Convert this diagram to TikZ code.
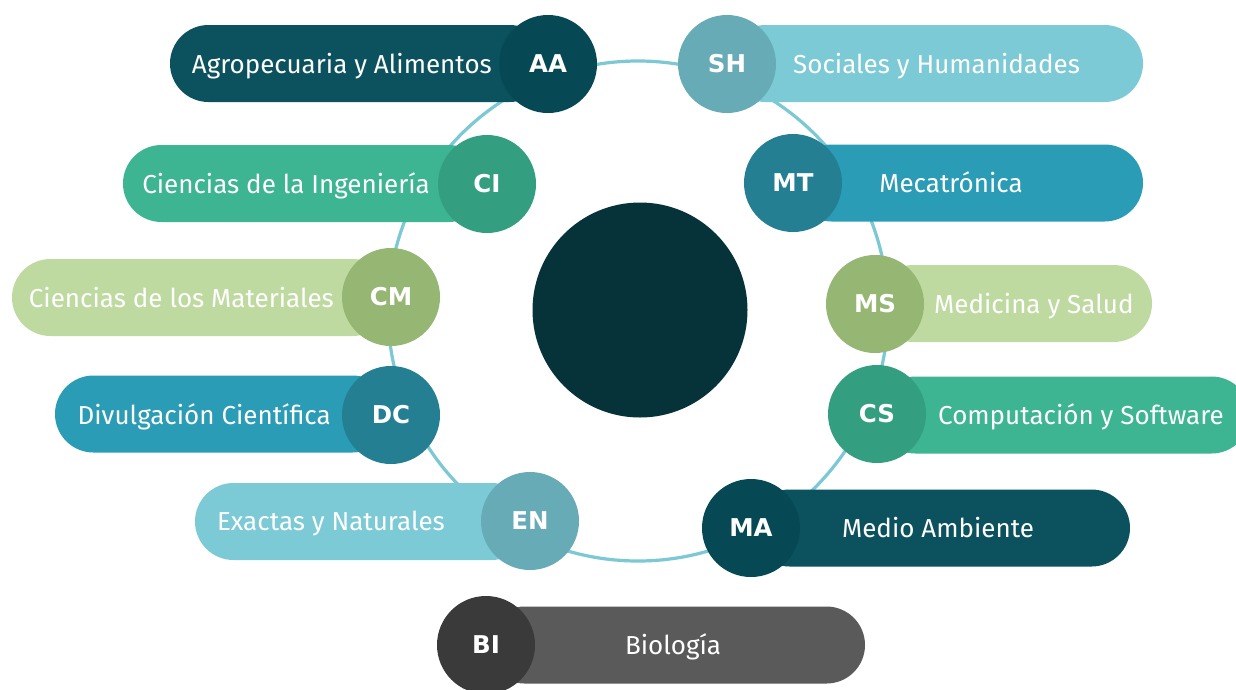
\documentclass[tikz,border=0pt]{standalone}
\usepackage{fontspec}
\setmainfont{Fira Sans}
\newfontfamily\badgefont{DejaVu Sans}
\definecolor{ringc}{HTML}{7CC8D4}
\definecolor{corec}{HTML}{063239}
\definecolor{dkp}{HTML}{0B525E}
\definecolor{dkc}{HTML}{064954}
\definecolor{ltp}{HTML}{7CCAD6}
\definecolor{ltc}{HTML}{66ABB5}
\definecolor{grp}{HTML}{3DB592}
\definecolor{grc}{HTML}{349F80}
\definecolor{blp}{HTML}{2B9CB6}
\definecolor{blc}{HTML}{257F93}
\definecolor{lgp}{HTML}{BFDAA0}
\definecolor{lgc}{HTML}{96B673}
\definecolor{gyp}{HTML}{5A5A5A}
\definecolor{gyc}{HTML}{3A3A3A}
\begin{document}
\begin{tikzpicture}[x=1pt,y=-1pt,
  pill/.style={rectangle, rounded corners=38.5pt, minimum height=77pt, inner sep=0pt, draw=none},
  badge/.style={circle, minimum size=98pt, inner sep=0pt, text=white, font=\badgefont\fontsize{24.5}{29}\selectfont\bfseries},
  lbl/.style={text=white, font=\fontsize{26}{31}\selectfont, inner sep=0pt},
]
\useasboundingbox (0,0) rectangle (1236,689);
\clip (0,0) rectangle (1236,689);
\fill[white] (0,0) rectangle (1236,689);
\node[circle, draw=ringc, line width=3.2pt, minimum size=500pt, inner sep=0pt] (ring) at (638,311) {};
\node[circle, fill=corec, minimum size=215pt, inner sep=0pt] (core) at (640,310) {};
% AA
\node[pill, fill=dkp, minimum width=378pt] (AAp) at (359,63.5) {};
\node[badge, fill=dkc] (AA) at (548,64) {AA};
\node[lbl, anchor=base east] (AAt) at (492,73) {Agropecuaria y Alimentos};
% SH
\node[pill, fill=ltp, minimum width=416pt] (SHp) at (935,63.5) {};
\node[badge, fill=ltc] (SH) at (727,64) {SH};
\node[lbl, anchor=base west] (SHt) at (793,73) {Sociales y Humanidades};
% CI
\node[pill, fill=grp, minimum width=364pt] (CIp) at (305,183.5) {};
\node[badge, fill=grc] (CI) at (487,184) {CI};
\node[lbl, anchor=base east] (CIt) at (430,193) {Ciencias de la Ingeniería};
% MT
\node[pill, fill=blp, minimum width=350pt] (MTp) at (968,183) {};
\node[badge, fill=blc] (MT) at (793,183) {MT};
\node[lbl, anchor=base] (MTt) at (951,192) {Mecatrónica};
% CM
\node[pill, fill=lgp, minimum width=379pt] (CMp) at (201.5,297.5) {};
\node[badge, fill=lgc] (CM) at (391,297) {CM};
\node[lbl, anchor=base east] (CMt) at (334,307) {Ciencias de los Materiales};
% MS
\node[pill, fill=lgp, minimum width=277pt] (MSp) at (1013.5,303.5) {};
\node[badge, fill=lgc] (MS) at (875,304) {MS};
\node[lbl, anchor=base west] (MSt) at (934,313) {Medicina y Salud};
% DC
\node[pill, fill=blp, minimum width=336pt] (DCp) at (223,414) {};
\node[badge, fill=blc] (DC) at (391,415) {DC};
\node[lbl, anchor=base east] (DCt) at (331,424) {Divulgación Científica};
% CS
\node[pill, fill=grp, minimum width=373pt] (CSp) at (1063.5,415) {};
\node[badge, fill=grc] (CS) at (877,414) {CS};
\node[lbl, anchor=base west] (CSt) at (938,424) {Computación y Software};
% EN
\node[pill, fill=ltp, minimum width=335pt] (ENp) at (362.5,521.5) {};
\node[badge, fill=ltc] (EN) at (530,521) {EN};
\node[lbl, anchor=base east] (ENt) at (445,530) {Exactas y Naturales};
% MA
\node[pill, fill=dkp, minimum width=379pt] (MAp) at (940.5,528) {};
\node[badge, fill=dkc] (MA) at (751,528) {MA};
\node[lbl, anchor=base] (MAt) at (938,537) {Medio Ambiente};
% BI
\node[pill, fill=gyp, minimum width=379pt] (BIp) at (675.5,645) {};
\node[badge, fill=gyc] (BI) at (486,645) {BI};
\node[lbl, anchor=base] (BIt) at (673,654) {Biología};
\end{tikzpicture}
\end{document}
